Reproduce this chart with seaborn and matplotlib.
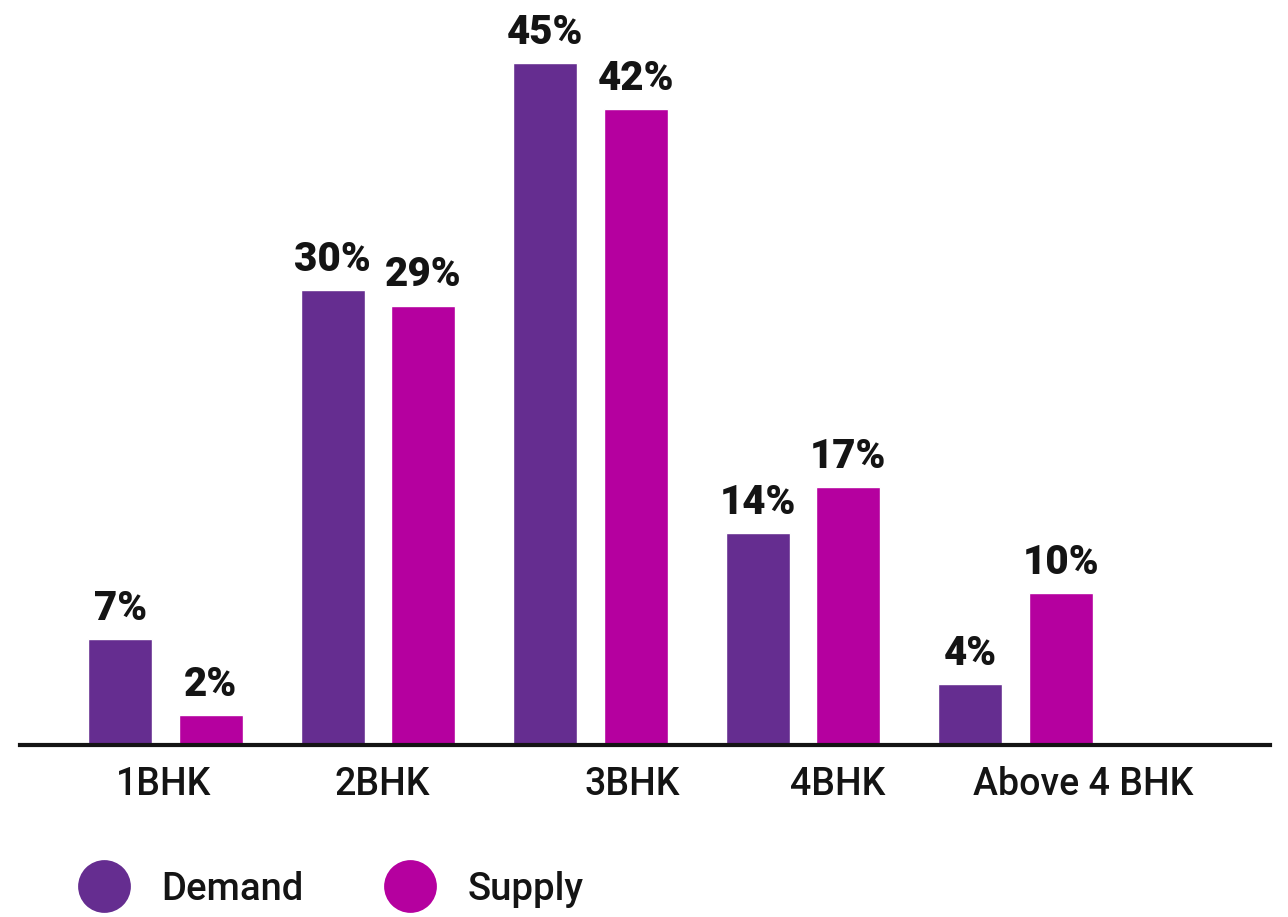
import matplotlib
matplotlib.use("Agg")
import matplotlib.pyplot as plt
import seaborn as sns
import pandas as pd
from matplotlib.lines import Line2D

# Data
categories = ["1BHK", "2BHK", "3BHK", "4BHK", "Above 4 BHK"]
series_names = ["Demand", "Supply"]
demand = [7, 30, 45, 14, 4]
supply = [2, 29, 42, 17, 10]

# Styling
colors = {"Demand": "#652D90", "Supply": "#B5009F"}
label_shift = [-0.007, 0.019, 0.195, 0.165, 0.318]
ink = "#141414"

df = pd.DataFrame({
    "category": categories * 2,
    "series": ["Demand"] * len(demand) + ["Supply"] * len(supply),
    "value": demand + supply,
})

sns.set_theme(style="white")
plt.rcParams["font.family"] = ["Roboto", "DejaVu Sans"]

fig = plt.figure(figsize=(12.88, 9.17), dpi=100)
ax = fig.add_axes([20 / 1288, 172 / 917, 1250 / 1288, 725 / 917])

sns.barplot(
    data=df, x="category", y="value", hue="series",
    order=categories, hue_order=series_names, palette=colors,
    width=0.85, gap=0.29, saturation=1, legend=False, ax=ax,
)

for cont in ax.containers:
    ax.bar_label(
        cont, labels=[f"{v:g}%" for v in cont.datavalues],
        padding=8, fontsize=29, fontweight="black", color=ink,
    )

ax.set_xlim(-0.685, 5.198)
ax.set_ylim(0, 47.85)
ax.set_xlabel("")
ax.set_ylabel("")
ax.set_yticks([])
ax.set_xticks([i + s for i, s in enumerate(label_shift)])
ax.set_xticklabels(categories, fontsize=27, fontweight="medium", color=ink)
ax.tick_params(axis="x", length=0, pad=15)

for side in ["left", "right", "top"]:
    ax.spines[side].set_visible(False)
ax.spines["bottom"].set_linewidth(3)
ax.spines["bottom"].set_color(ink)

handles = [
    Line2D([], [], marker="o", linestyle="", markersize=38,
           markerfacecolor=colors[name], markeredgewidth=0)
    for name in series_names
]
fig.legend(
    handles, series_names, loc="center left",
    bbox_to_anchor=(77 / 1288, 28 / 917), ncol=2, frameon=False,
    handlelength=1.4, handletextpad=0.8,
    columnspacing=2.1, borderpad=0, borderaxespad=0,
    prop={"size": 27.5, "weight": "medium"},
)
for t in fig.legends[0].get_texts():
    t.set_color(ink)

fig.savefig("out.png", dpi=100)
